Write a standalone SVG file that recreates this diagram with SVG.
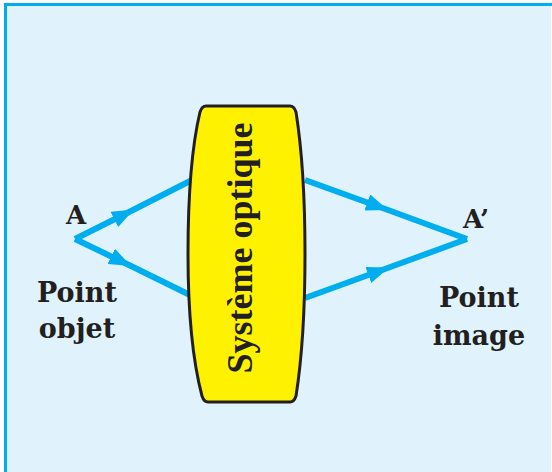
<svg xmlns="http://www.w3.org/2000/svg" width="552" height="472" viewBox="0 0 552 472">
  <defs>
    <marker id="arr" viewBox="0 0 22 17" refX="22" refY="8.5" markerWidth="22" markerHeight="17" markerUnits="userSpaceOnUse" orient="auto">
      <path d="M0,0 L22,8.5 L0,17 Z" fill="#00AEEF"/>
    </marker>
    <style>
      .ray { fill: none; stroke: #00AEEF; stroke-width: 6; stroke-linecap: butt; stroke-linejoin: miter; marker-mid: url(#arr); }
      .lbl { font-family: "DejaVu Serif", "Liberation Serif", serif; font-weight: bold; fill: #231F20; }
      .lens-t { font-family: "Liberation Serif", "DejaVu Serif", serif; font-weight: bold; fill: #231F20; font-size: 36px; }
    </style>
  </defs>
  <rect x="0" y="0" width="552" height="472" fill="#FFFFFF"/>
  <rect x="5" y="4" width="546" height="468" fill="#E0F3FD"/>
  <path d="M5.5,472 L5.5,4.5 L552,4.5" fill="none" stroke="#00AEEF" stroke-width="3"/>

  <g id="connectors">
    <path class="ray" d="M75,239 L134,209.5 L192,180"/>
    <path class="ray" d="M75,239 L131,266 L192,296"/>
    <path class="ray" d="M305,180 L388,210 L467,239"/>
    <path class="ray" d="M305,298 L389,267.5 L467,239"/>
  </g>

  <g id="lens">
    <path d="M206,106 L290,106 Q294,106 296,112 C302,150 305,200 305,254 C305,308 302,358 296,396 Q294,402 290,402 L208,402 Q204,402 202,396 C192,358 188,308 188,254 C188,200 191,150 200,112 Q202,106 206,106 Z" fill="#FFF200" stroke="#231F20" stroke-width="3"/>
    <text class="lens-t" transform="translate(252,248) rotate(-90)" text-anchor="middle">Système optique</text>
  </g>

  <g id="pointA">
    <text class="lbl" x="76" y="224" font-size="26" text-anchor="middle">A</text>
    <text class="lbl" x="77" y="302" font-size="27" text-anchor="middle">Point</text>
    <text class="lbl" x="77" y="338" font-size="27" text-anchor="middle">objet</text>
  </g>

  <g id="pointA2">
    <text class="lbl" x="463" y="228" font-size="26">A’</text>
    <text class="lbl" x="479" y="307" font-size="27" text-anchor="middle">Point</text>
    <text class="lbl" x="479" y="345" font-size="27" text-anchor="middle">image</text>
  </g>
</svg>
